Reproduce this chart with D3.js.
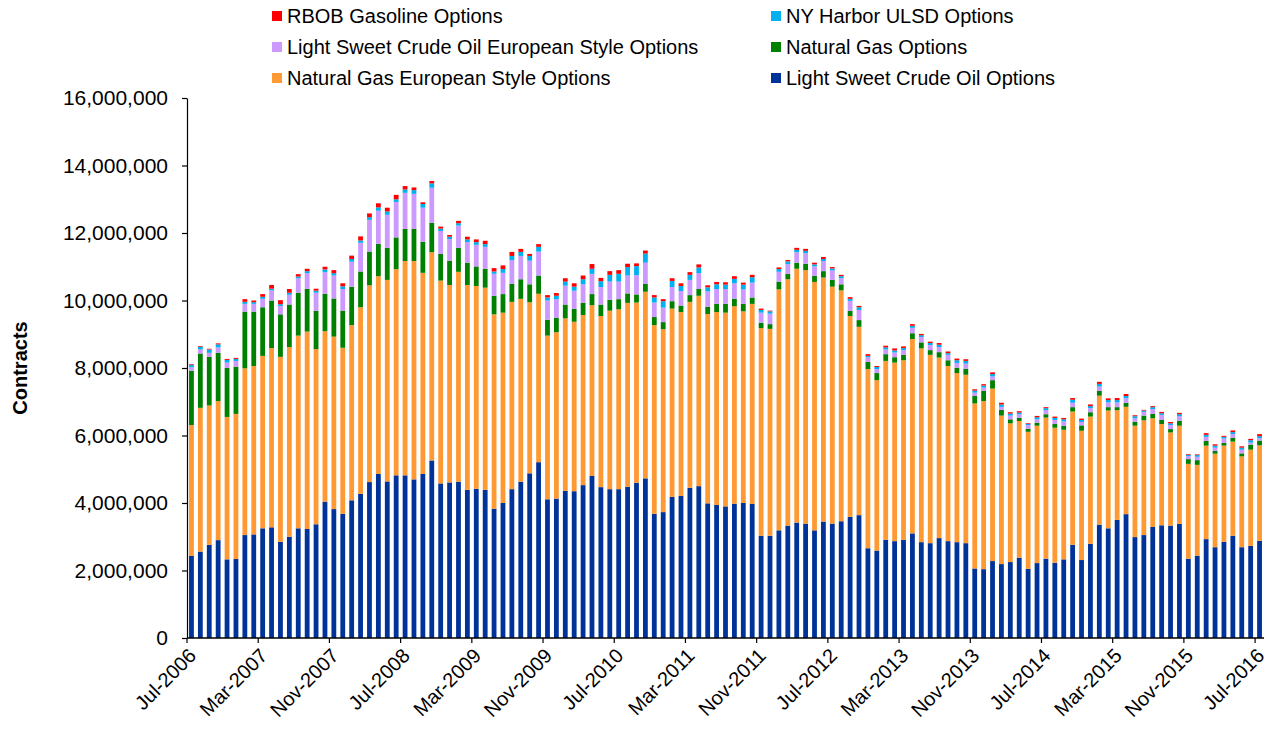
<!DOCTYPE html>
<html>
<head>
<meta charset="utf-8">
<script src="https://cdn.jsdelivr.net/npm/d3@7/dist/d3.min.js"></script>
<style>
body { margin: 0; background: #fff; }
svg text { font-family: "Liberation Sans", Arial, sans-serif; fill: #000; }
</style>
</head>
<body>
<svg id="chart" width="1277" height="732"></svg>
<script>
// monthly option volumes, millions of contracts, Jul-2006 .. Jul-2016
const crude = [2.43,2.56,2.76,2.90,2.33,2.34,3.05,3.07,3.25,3.28,2.85,3.00,3.25,3.23,3.37,4.04,3.82,3.68,4.08,4.27,
  4.62,4.86,4.64,4.82,4.82,4.70,4.86,5.26,4.58,4.61,4.63,4.39,4.42,4.39,3.83,4.00,4.41,4.63,4.88,5.21,
  4.11,4.13,4.36,4.35,4.53,4.80,4.47,4.41,4.41,4.48,4.60,4.73,3.68,3.73,4.18,4.21,4.45,4.50,3.99,3.94,
  3.90,3.98,4.00,3.97,3.03,3.03,3.19,3.33,3.42,3.39,3.19,3.45,3.39,3.46,3.59,3.64,2.66,2.59,2.91,2.87,
  2.91,3.10,2.84,2.81,2.96,2.87,2.84,2.81,2.06,2.04,2.28,2.19,2.25,2.38,2.05,2.22,2.35,2.23,2.33,2.76,
  2.31,2.79,3.36,3.25,3.50,3.67,2.99,3.05,3.29,3.34,3.33,3.38,2.35,2.44,2.93,2.69,2.85,3.03,2.69,2.73,2.88];
const ngEuro = [3.88,4.26,4.13,4.12,4.22,4.30,4.94,4.99,5.11,5.31,5.48,5.62,5.71,5.85,5.19,5.05,5.11,4.92,5.19,5.53,
  5.83,5.86,5.97,6.11,6.35,6.47,5.96,6.17,6.01,5.85,6.22,6.07,6.01,5.99,5.76,5.64,5.55,5.42,5.07,4.99,
  4.85,4.93,5.11,5.02,5.04,5.06,5.07,5.29,5.33,5.45,5.34,5.53,5.59,5.42,5.58,5.45,5.51,5.64,5.61,5.72,
  5.74,5.85,5.68,5.93,6.15,6.13,7.14,7.30,7.52,7.51,7.36,7.23,7.02,6.84,5.95,5.58,5.31,5.05,5.30,5.29,
  5.32,5.76,5.74,5.58,5.35,5.19,5.01,4.99,4.89,4.98,5.11,4.40,4.11,4.05,4.06,4.07,4.18,4.00,3.84,3.95,
  3.83,3.77,3.82,3.49,3.25,3.18,3.30,3.40,3.22,3.00,2.76,2.91,2.81,2.69,2.77,2.77,2.85,2.79,2.69,2.85,2.83];
const natGas = [1.61,1.61,1.44,1.43,1.45,1.40,1.68,1.61,1.44,1.41,1.26,1.26,1.27,1.27,1.13,1.11,1.13,1.10,1.14,1.06,
  1.00,0.96,0.95,0.94,0.95,0.95,0.92,0.87,0.79,0.72,0.71,0.66,0.58,0.56,0.55,0.55,0.54,0.58,0.53,0.54,
  0.47,0.43,0.41,0.38,0.36,0.33,0.34,0.32,0.30,0.28,0.24,0.23,0.24,0.21,0.22,0.19,0.20,0.20,0.21,0.24,
  0.26,0.22,0.22,0.19,0.16,0.14,0.23,0.16,0.18,0.19,0.18,0.19,0.20,0.18,0.15,0.20,0.21,0.21,0.20,0.16,
  0.16,0.17,0.18,0.14,0.16,0.17,0.16,0.18,0.22,0.30,0.25,0.17,0.12,0.09,0.09,0.09,0.10,0.11,0.12,0.13,
  0.16,0.13,0.14,0.10,0.09,0.12,0.12,0.14,0.13,0.12,0.10,0.15,0.14,0.14,0.14,0.08,0.08,0.11,0.09,0.15,0.14];
const crudeEuro = [0.10,0.12,0.12,0.16,0.16,0.17,0.23,0.23,0.25,0.30,0.25,0.29,0.43,0.46,0.54,0.64,0.68,0.64,0.74,0.85,
  0.94,0.98,0.98,1.05,1.07,1.04,1.01,1.04,0.68,0.64,0.66,0.61,0.64,0.65,0.65,0.63,0.70,0.69,0.70,0.71,
  0.57,0.55,0.56,0.54,0.55,0.60,0.52,0.54,0.52,0.53,0.57,0.63,0.43,0.43,0.42,0.43,0.45,0.47,0.46,0.44,
  0.44,0.46,0.43,0.44,0.30,0.31,0.29,0.29,0.31,0.31,0.28,0.30,0.28,0.18,0.30,0.30,0.14,0.12,0.14,0.14,
  0.14,0.16,0.16,0.15,0.15,0.16,0.14,0.15,0.10,0.10,0.11,0.09,0.11,0.11,0.11,0.10,0.12,0.12,0.13,0.13,
  0.10,0.12,0.13,0.14,0.14,0.13,0.10,0.11,0.14,0.15,0.12,0.13,0.09,0.10,0.12,0.10,0.13,0.11,0.11,0.06,0.07];
const ulsd = [0.08,0.08,0.10,0.09,0.08,0.06,0.06,0.05,0.06,0.05,0.05,0.06,0.05,0.06,0.06,0.08,0.07,0.08,0.08,0.07,
  0.08,0.10,0.10,0.08,0.10,0.11,0.11,0.13,0.07,0.07,0.07,0.08,0.08,0.08,0.07,0.11,0.12,0.12,0.14,0.14,
  0.09,0.10,0.12,0.12,0.15,0.15,0.17,0.20,0.23,0.25,0.27,0.27,0.15,0.19,0.18,0.15,0.15,0.17,0.12,0.14,
  0.13,0.13,0.14,0.16,0.08,0.07,0.08,0.08,0.07,0.07,0.06,0.06,0.06,0.06,0.06,0.08,0.04,0.06,0.06,0.06,
  0.06,0.06,0.05,0.06,0.07,0.05,0.08,0.08,0.06,0.06,0.07,0.07,0.06,0.05,0.04,0.06,0.06,0.06,0.06,0.09,
  0.06,0.06,0.08,0.07,0.07,0.07,0.06,0.04,0.06,0.05,0.05,0.06,0.04,0.05,0.06,0.06,0.05,0.06,0.06,0.07,0.06];
const rbob = [0.02,0.02,0.02,0.03,0.03,0.03,0.08,0.05,0.08,0.11,0.12,0.11,0.07,0.07,0.06,0.08,0.09,0.09,0.10,0.12,
  0.11,0.12,0.11,0.13,0.10,0.08,0.05,0.07,0.06,0.05,0.07,0.08,0.08,0.10,0.10,0.11,0.12,0.09,0.06,0.08,
  0.07,0.08,0.10,0.10,0.11,0.14,0.10,0.11,0.11,0.10,0.08,0.09,0.07,0.06,0.08,0.08,0.08,0.09,0.06,0.07,
  0.07,0.08,0.06,0.07,0.04,0.02,0.05,0.04,0.06,0.06,0.05,0.06,0.04,0.04,0.05,0.04,0.05,0.03,0.05,0.06,
  0.05,0.05,0.04,0.04,0.05,0.05,0.05,0.05,0.04,0.04,0.05,0.05,0.04,0.04,0.02,0.04,0.03,0.04,0.04,0.05,
  0.04,0.05,0.06,0.05,0.06,0.06,0.03,0.02,0.03,0.04,0.04,0.04,0.02,0.02,0.05,0.04,0.03,0.05,0.04,0.04,0.06];

const firstMonth = new Date(2006, 6, 1);
const months = d3.timeMonth.range(firstMonth, d3.timeMonth.offset(firstMonth, crude.length));
const labelEvery = 8;
const yTicks = [0, 2e6, 4e6, 6e6, 8e6, 10e6, 12e6, 14e6, 16e6];

// stacking order, bottom to top
const series = [
  {key: 'crude', name: 'Light Sweet Crude Oil Options', color: '#003399', values: crude},
  {key: 'ngEuro', name: 'Natural Gas European Style Options', color: '#FF9933', values: ngEuro},
  {key: 'natGas', name: 'Natural Gas Options', color: '#008000', values: natGas},
  {key: 'crudeEuro', name: 'Light Sweet Crude Oil European Style Options', color: '#CC99FF', values: crudeEuro},
  {key: 'ulsd', name: 'NY Harbor ULSD Options', color: '#00B0F0', values: ulsd},
  {key: 'rbob', name: 'RBOB Gasoline Options', color: '#FF0000', values: rbob}
];
// legend layout: [key, column, row]
const legendOrder = [['rbob', 0, 0], ['ulsd', 1, 0], ['crudeEuro', 0, 1], ['natGas', 1, 1], ['ngEuro', 0, 2], ['crude', 1, 2]];

const plot = {left: 187, right: 1264, top: 98, bottom: 638};
const svg = d3.select('#chart');

const rows = months.map((m, i) => {
    const r = {i: i, month: m};
    series.forEach(s => r[s.key] = s.values[i] * 1e6);
    return r;
});
const layers = d3.stack().keys(series.map(s => s.key))(rows);

const x = d3.scaleBand().domain(d3.range(months.length)).range([plot.left, plot.right])
    .paddingInner(0.46).paddingOuter(0.23);
const y = d3.scaleLinear().domain([0, 16e6]).range([plot.bottom, plot.top]);
const colorOf = d3.scaleOrdinal().domain(series.map(s => s.key)).range(series.map(s => s.color));

// bars
svg.append('g').selectAll('g').data(layers).join('g')
    .attr('fill', d => colorOf(d.key))
    .selectAll('rect').data(d => d).join('rect')
    .attr('x', d => x(d.data.i))
    .attr('width', x.bandwidth())
    .attr('y', d => y(d[1]))
    .attr('height', d => Math.max(0, y(d[0]) - y(d[1])));

// y axis
const yAxis = svg.append('g').attr('transform', `translate(${plot.left},0)`)
    .call(d3.axisLeft(y).tickValues(yTicks).tickFormat(d3.format(',')).tickSize(5).tickSizeOuter(0).tickPadding(14));
yAxis.selectAll('text').style('font-size', '21px');
yAxis.selectAll('line, path').attr('stroke', '#000').attr('stroke-width', 1.2);

// x axis: ticks between categories, labels every 8 months
const step = x.step();
const edge = i => x(i) - (step - x.bandwidth()) / 2;
const xg = svg.append('g');
xg.append('line').attr('x1', plot.left).attr('x2', plot.right)
    .attr('y1', plot.bottom).attr('y2', plot.bottom)
    .attr('stroke', '#000').attr('stroke-width', 1.5);
const labelIdx = d3.range(0, months.length, labelEvery);
xg.selectAll('line.tick').data(labelIdx).join('line').attr('class', 'tick')
    .attr('x1', d => edge(d)).attr('x2', d => edge(d))
    .attr('y1', plot.bottom).attr('y2', plot.bottom + 5)
    .attr('stroke', '#000').attr('stroke-width', 1.2);
const fmtMonth = d3.timeFormat('%b-%Y');
xg.selectAll('text').data(labelIdx).join('text')
    .attr('transform', d => `translate(${x(d) + x.bandwidth() / 2 + 6},${plot.bottom + 19}) rotate(-45)`)
    .attr('text-anchor', 'end')
    .style('font-size', '20px')
    .text(d => fmtMonth(months[d]));

// y title
svg.append('text')
    .attr('transform', `translate(27,${(plot.top + plot.bottom) / 2}) rotate(-90)`)
    .attr('text-anchor', 'middle')
    .style('font-size', '20px').style('font-weight', 'bold')
    .text('Contracts');

// legend
const legend = svg.append('g');
const colX = [272, 771], rowY = [16, 47, 78];
const item = legend.selectAll('g').data(legendOrder).join('g')
    .attr('transform', d => `translate(${colX[d[1]]},${rowY[d[2]]})`);
item.append('rect').attr('x', 0).attr('y', -5).attr('width', 10).attr('height', 10)
    .attr('fill', d => colorOf(d[0]));
item.append('text').attr('x', 15).attr('y', 0).attr('dy', '0.35em')
    .style('font-size', '20px')
    .text(d => series.find(s => s.key === d[0]).name);
</script>
</body>
</html>
